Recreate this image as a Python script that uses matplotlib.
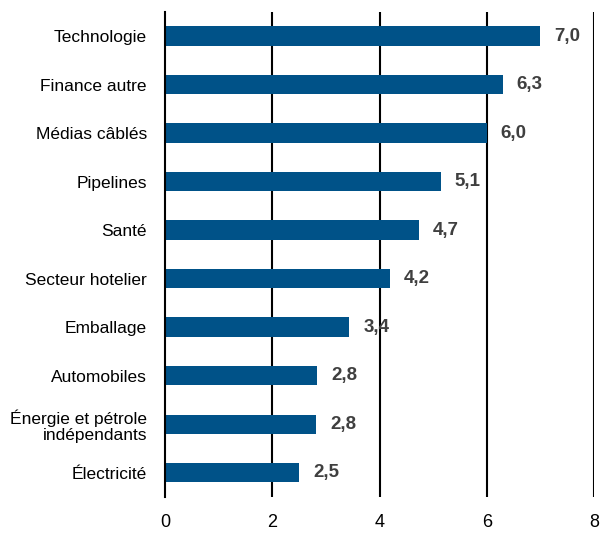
import matplotlib
matplotlib.use('Agg')
import matplotlib.pyplot as plt

plt.rcParams['font.family'] = ['Liberation Sans', 'DejaVu Sans']

CATEGORIES = ['Technologie', 'Finance autre', 'Médias câblés', 'Pipelines', 'Santé',
              'Secteur hotelier', 'Emballage', 'Automobiles',
              'Énergie et pétrole\nindépendants', 'Électricité']
VALUES = [7.0, 6.3, 6.0, 5.14, 4.74, 4.2, 3.44, 2.84, 2.82, 2.5]
XTICKS = [0, 2, 4, 6, 8]

BAR_COLOR = '#005288'
LABEL_COLOR = '#3f3f3f'

fig = plt.figure(figsize=(6.0, 5.35), dpi=100)
ax = fig.add_axes([0.275, 0.071, 0.715, 0.907])

ypos = list(range(len(CATEGORIES)))
ax.barh(ypos, VALUES, height=0.4, color=BAR_COLOR, zorder=3)
for y, v in zip(ypos, VALUES):
    ax.text(v + 0.26, y, '{:.1f}'.format(v).replace('.', ','), va='center', ha='left',
            fontsize=13.5, fontweight='bold', color=LABEL_COLOR, zorder=4)

ax.set_xlim(0, 8)
ax.set_ylim(len(CATEGORIES) - 0.5, -0.5)
ax.set_xticks(XTICKS)
ax.set_xticklabels([str(t) for t in XTICKS])
ax.set_yticks(ypos)
ax.set_yticklabels(CATEGORIES, linespacing=1.05)
ax.tick_params(axis='both', length=0, labelsize=12.5, colors='black')
ax.tick_params(axis='x', pad=12, labelsize=13)
ax.tick_params(axis='y', pad=13)

for x in XTICKS[1:]:
    ax.axvline(x, color='black', lw=1.5, zorder=2)
for s in ['top', 'right', 'bottom']:
    ax.spines[s].set_visible(False)
ax.spines['left'].set_linewidth(1.5)
ax.spines['left'].set_zorder(5)

fig.savefig('out.png', dpi=100)
